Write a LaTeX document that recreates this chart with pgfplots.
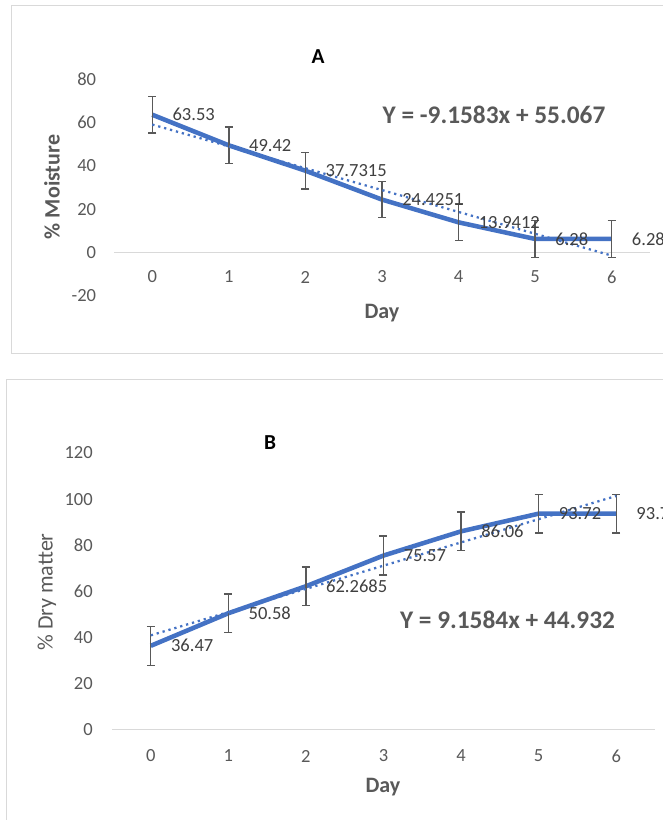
\documentclass[border=0pt]{standalone}
\usepackage{fontspec}
\setmainfont{Carlito}
\usepackage{pgfplots}
\usepackage{pgfplotstable}
\pgfplotsset{compat=1.18}

\definecolor{xlblue}{HTML}{4472C4}
\definecolor{txtgray}{HTML}{595959}
\definecolor{lblgray}{HTML}{404040}
\definecolor{framegray}{HTML}{D9D9D9}

% day, mean, standard error, label
\pgfplotstableread{
day val err lab
0 63.53 8.4 63.53
1 49.42 8.4 49.42
2 37.7315 8.4 37.7315
3 24.4251 8.4 24.4251
4 13.9412 8.4 13.9412
5 6.28 8.4 6.28
6 6.28 8.4 6.28
}\moisture

\pgfplotstableread{
day val err lab
0 36.47 8.4 36.47
1 50.58 8.4 50.58
2 62.2685 8.4 62.2685
3 75.57 8.4 75.57
4 86.06 8.4 86.06
5 93.72 8.4 93.72
6 93.72 8.4 93.72
}\drymatter

\pgfplotsset{
 panel/.style={
  scale only axis, anchor=south west, clip=false,
  xmin=-0.5, xmax=6.5,
  xtick={0,...,6}, xticklabels={0,1,2,3,4,5,6},
  axis line style={draw=none},
  major tick length=0pt,
  tick label style={font=\fontsize{13.9}{16}\selectfont, text=txtgray, inner sep=0pt},
  xticklabel style={anchor=center},
  yticklabel style={anchor=east},
  /pgf/number format/assume math mode=true,
 },
 series/.style={
  xlblue, line width=3.4pt, line join=round, no markers,
  nodes near coords, point meta=explicit symbolic,
  every node near coord/.append style={anchor=west, inner sep=0pt, xshift=13.5pt,
   font=\fontsize{13.9}{16}\selectfont, text=lblgray},
  error bars/.cd, y dir=both, y explicit,
  error bar style={line width=1pt, color=txtgray, solid},
  error mark options={line width=1pt, color=txtgray, mark size=3pt, rotate=90},
 },
 trend/.style={xlblue, line width=1.7pt, dash pattern=on 1.7pt off 2.9pt, no markers},
}

\begin{document}
\begin{tikzpicture}
\useasboundingbox (0,0) rectangle (497.25pt,615pt);
\draw[framegray, line width=0.75pt] (8.25pt,349.5pt) rectangle (510pt,610.5pt);
\draw[framegray, line width=0.75pt] (4.75pt,-10pt) rectangle (510pt,330pt);

% Panel A
\begin{axis}[panel, at={(85.5pt,393pt)}, width=402pt, height=162.75pt,
 ymin=-20, ymax=80, ytick={-20,0,20,40,60,80}, yticklabels={-20,0,20,40,60,80},
 xticklabel style={yshift=14.25pt}, yticklabel style={xshift=-13.2pt}]
 \draw[framegray, line width=0.75pt] (axis cs:-0.5,0) -- (axis cs:6.5,0);
 \addplot[series] table[x=day, y=val, y error=err, meta=lab] {\moisture};
 \addplot[trend] coordinates {(0,58.996) (6,-1.394)};
\end{axis}

% Panel B
\begin{axis}[panel, at={(84pt,67.5pt)}, width=407.25pt, height=207.75pt,
 ymin=0, ymax=120, ytick={0,20,40,60,80,100,120}, yticklabels={0,20,40,60,80,100,120},
 xticklabel style={yshift=-19.5pt}, yticklabel style={xshift=-14.25pt}]
 \draw[framegray, line width=0.75pt] (axis cs:-0.5,0) -- (axis cs:6.5,0);
 \addplot[series] table[x=day, y=val, y error=err, meta=lab] {\drymatter};
 \addplot[trend] coordinates {(0,41.004) (6,101.394)};
\end{axis}

% titles, axis titles and trendline equations
\node[font=\fontsize{16}{19}\selectfont\bfseries] at (238.5pt,572.25pt) {A};
\node[font=\fontsize{16}{19}\selectfont\bfseries] at (202.5pt,282.75pt) {B};
\node[font=\fontsize{16.5}{20}\selectfont\bfseries, text=txtgray, rotate=90] at (39pt,474.75pt) {\% Moisture};
\node[font=\fontsize{16.5}{20}\selectfont, text=txtgray, rotate=90] at (35.25pt,171pt) {\% Dry matter};
\node[font=\fontsize{16.5}{20}\selectfont\bfseries, text=txtgray] at (286.5pt,380.25pt) {Day};
\node[font=\fontsize{16.5}{20}\selectfont\bfseries, text=txtgray] at (287.25pt,24.75pt) {Day};
\node[font=\fontsize{19}{23}\selectfont\bfseries, text=txtgray] at (370.5pt,528.75pt) {Y = -9.1583x + 55.067};
\node[font=\fontsize{19}{23}\selectfont\bfseries, text=txtgray] at (380.6pt,150pt) {Y = 9.1584x + 44.932};
\end{tikzpicture}
\end{document}
